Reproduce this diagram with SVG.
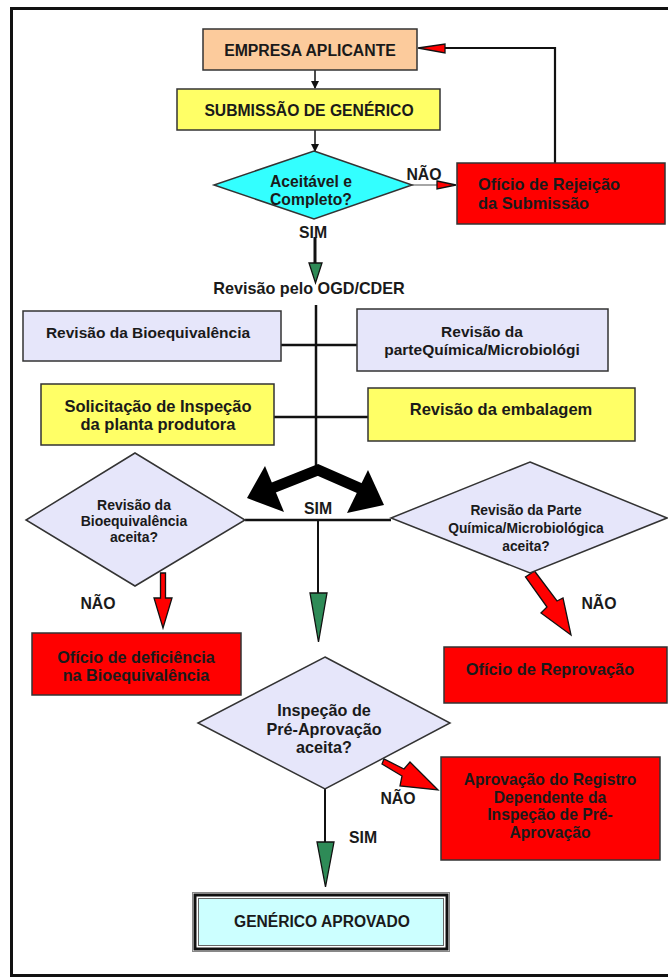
<svg xmlns="http://www.w3.org/2000/svg" width="668" height="978" viewBox="0 0 668 978">
<style>
text{font-family:"Liberation Sans",Arial,sans-serif;font-weight:bold;fill:#1a1a1a;}
.box{stroke:#333;stroke-width:1.5;}
.c{text-anchor:middle;}
.ln{stroke:#111;fill:none;}
.red{fill:#ff0000;stroke:#111;stroke-width:1.3;stroke-linejoin:miter;}
.grn{fill:#2e8b57;stroke:#111;stroke-width:1.3;}
.lb{font-size:15.8px;}
</style>
<defs>
<marker id="sa" markerWidth="8" markerHeight="8" refX="7" refY="4" orient="auto" markerUnits="userSpaceOnUse">
<path d="M0,0 L8,4 L0,8 Z" fill="#111"/>
</marker>
</defs>
<rect width="668" height="978" fill="#fff"/>
<rect x="11.5" y="8.5" width="670" height="967" fill="none" stroke="#111" stroke-width="3"/>

<g id="connectors">
<line class="ln" x1="315" y1="70" x2="315" y2="88" stroke-width="1.5" marker-end="url(#sa)"/>
<line class="ln" x1="315" y1="130" x2="315" y2="151" stroke-width="1.5" marker-end="url(#sa)"/>
<line x1="412" y1="185" x2="440" y2="185" stroke="#888" stroke-width="1.5"/>
<polygon class="red" points="437,181 456,185 437,189"/>
<polyline class="ln" points="555,163 555,48 444,48" stroke-width="2.2"/>
<polygon class="red" points="418,48 445,44 445,53"/>
<line class="ln" x1="315" y1="237" x2="315" y2="264" stroke-width="3"/>
<polygon class="grn" points="309,263 322,263 315.5,283"/>
<line class="ln" x1="316" y1="305" x2="316" y2="470" stroke-width="2.5"/>
<line class="ln" x1="281" y1="345" x2="357" y2="345" stroke-width="2.5"/>
<line class="ln" x1="274" y1="417" x2="368" y2="417" stroke-width="2.5"/>
<polyline points="270,489 318,470 366,491" fill="none" stroke="#000" stroke-width="11" stroke-linejoin="miter"/>
<polygon points="265,466 247,498 284,512" fill="#000"/>
<polygon points="368,470 384,505 347,513" fill="#000"/>
<line class="ln" x1="245" y1="520" x2="391" y2="520" stroke-width="2.5"/>
<line class="ln" x1="318" y1="520" x2="318" y2="594" stroke-width="2"/>
<polygon class="grn" points="310,593 327,593 318.5,642"/>
<polygon class="red" points="160.5,573 165.5,573 165.5,598 172,598 163,628 154,598 160.5,598"/>
<polygon class="red" points="530,574 534.5,571 557,601 563,598 571,635 541,613 547,607 525.5,577"/>
<polygon class="red" points="382,764 384,759 404,769 410,762 438,790 400,786 402,776"/>
<line class="ln" x1="325" y1="789" x2="325" y2="843" stroke-width="2"/>
<polygon class="grn" points="317,842 334,842 325.5,887"/>
<text x="424" y="180" class="c lb">NÃO</text>
<text x="313" y="238" class="c lb">SIM</text>
<text x="318" y="514" class="c lb">SIM</text>
<text x="98" y="609" class="c lb">NÃO</text>
<text x="599" y="609" class="c lb">NÃO</text>
<text x="398" y="804" class="c lb">NÃO</text>
<text x="363" y="843" class="c lb">SIM</text>
</g>

<g id="empresa">
<rect class="box" x="203" y="29" width="214" height="41" fill="#fccb9c"/>
<text x="310" y="56" class="c" font-size="15.8">EMPRESA APLICANTE</text>
</g>
<g id="submissao">
<rect class="box" x="177" y="89" width="263" height="41" fill="#ffff66"/>
<text x="309" y="116" class="c" font-size="15.7">SUBMISSÃO DE GENÉRICO</text>
</g>
<g id="aceitavel">
<polygon class="box" points="314,151 412,185 314,219 214,185" fill="#33ffff"/>
<text x="311" y="187" class="c" font-size="15.7">Aceitável e</text>
<text x="311" y="205" class="c" font-size="15.7">Completo?</text>
</g>
<g id="rejeicao">
<rect class="box" x="457" y="163" width="208" height="61" fill="#ff0000"/>
<text x="478" y="190" font-size="16.4">Ofício de Rejeição</text>
<text x="478" y="209" font-size="16.4">da Submissão</text>
</g>
<g id="ogd">
<text x="309" y="294" class="c" font-size="16.2">Revisão pelo OGD/CDER</text>
</g>
<g id="bioequiv">
<rect class="box" x="23" y="311" width="258" height="50" fill="#e6e6fa"/>
<text x="148" y="338" class="c" font-size="15.5">Revisão da Bioequivalência</text>
</g>
<g id="quimica">
<rect class="box" x="357" y="309" width="251" height="62" fill="#e6e6fa"/>
<text x="482" y="337" class="c" font-size="15.5">Revisão da</text>
<text x="482" y="355" class="c" font-size="15.5">parteQuímica/Microbiológi</text>
</g>
<g id="solicitacao">
<rect class="box" x="41" y="384" width="233" height="61" fill="#ffff66"/>
<text x="158" y="412" class="c" font-size="16.5">Solicitação de Inspeção</text>
<text x="158" y="430" class="c" font-size="16.5">da planta produtora</text>
</g>
<g id="embalagem">
<rect class="box" x="368" y="388" width="267" height="53" fill="#ffff66"/>
<text x="501" y="415" class="c" font-size="16.5">Revisão da embalagem</text>
</g>
<g id="bio-aceita">
<polygon class="box" points="135,453 245,520 135,586 26,520" fill="#e6e6fa"/>
<text x="134" y="510" class="c" font-size="14">Revisão da</text>
<text x="134" y="526" class="c" font-size="14">Bioequivalência</text>
<text x="134" y="542" class="c" font-size="14">aceita?</text>
</g>
<g id="quim-aceita">
<polygon class="box" points="530,462 667,518 530,573 391,518" fill="#e6e6fa"/>
<text x="526" y="515" class="c" font-size="13.8">Revisão da Parte</text>
<text x="526" y="533" class="c" font-size="13.8">Química/Microbiológica</text>
<text x="526" y="551" class="c" font-size="13.8">aceita?</text>
</g>
<g id="deficiencia">
<rect class="box" x="32" y="633" width="209" height="62" fill="#ff0000"/>
<text x="136" y="663" class="c" font-size="16.2">Ofício de deficiência</text>
<text x="136" y="681" class="c" font-size="16.2">na Bioequivalência</text>
</g>
<g id="reprovacao">
<rect class="box" x="444" y="647" width="223" height="56" fill="#ff0000"/>
<text x="550" y="675" class="c" font-size="16.4">Ofício de Reprovação</text>
</g>
<g id="inspecao">
<polygon class="box" points="325,657 450,723 325,789 198,723" fill="#e6e6fa"/>
<text x="324" y="716" class="c" font-size="16.2">Inspeção de</text>
<text x="324" y="735" class="c" font-size="16.2">Pré-Aprovação</text>
<text x="324" y="753" class="c" font-size="16.2">aceita?</text>
</g>
<g id="aprovacao-dependente">
<rect class="box" x="441" y="757" width="219" height="103" fill="#ff0000"/>
<text x="550" y="785" class="c" font-size="15.7">Aprovação do Registro</text>
<text x="550" y="803" class="c" font-size="15.7">Dependente da</text>
<text x="550" y="820" class="c" font-size="15.7">Inspeção de Pré-</text>
<text x="550" y="838" class="c" font-size="15.7">Aprovação</text>
</g>
<g id="aprovado">
<rect x="192.5" y="892.5" width="257" height="59" fill="#fff" stroke="#888" stroke-width="1"/>
<rect x="195" y="895" width="252" height="54" fill="none" stroke="#111" stroke-width="3"/>
<rect x="198.5" y="898.5" width="245" height="47" fill="#ccffff" stroke="#666" stroke-width="1"/>
<text x="322" y="927" class="c" font-size="15.6">GENÉRICO APROVADO</text>
</g>
</svg>
